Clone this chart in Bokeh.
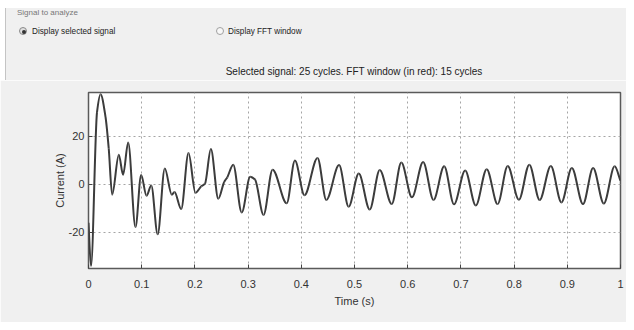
import numpy as np
from bokeh.plotting import figure
from bokeh.models import Div, Range1d, FixedTicker, ColumnDataSource
from bokeh.layouts import column
from bokeh.embed import file_html
from bokeh.resources import INLINE

# ---- data ----
time_s = [0.000, 0.0047, 0.016, 0.0226, 0.032, 0.038, 0.0445, 0.057, 0.065, 0.0746,
          0.0883, 0.099, 0.109, 0.118, 0.130, 0.1434, 0.1566, 0.1617, 0.1742, 0.188,
          0.201, 0.212, 0.219, 0.230, 0.244, 0.255, 0.261, 0.272, 0.288, 0.304,
          0.313, 0.329, 0.346, 0.3726, 0.388, 0.406, 0.4305, 0.447, 0.471, 0.489,
          0.508, 0.5286, 0.5474, 0.570, 0.588, 0.608, 0.629, 0.6485, 0.6686, 0.687,
          0.708, 0.728, 0.7485, 0.769, 0.788, 0.809, 0.8286, 0.848, 0.869, 0.889,
          0.9085, 0.9295, 0.9485, 0.9686, 0.989, 1.000]
current_a = [-16, -34, 30, 37.5, 28, 15, -4.3, 12.3, 4, 17.4,
             -17.8, 3.9, -4.7, -0.5, -20.8, 6.6, -4.3, -3.2, -10.3, 13,
             -3.5, -0.8, 0.3, 14.7, -6, 1, 3, 8.2, -11.7, 3.2,
             2, -12.7, 6.1, -7.9, 9.9, -4.5, 11, -6.5, 8, -9.3,
             4.5, -10.5, 6, -8.2, 9.1, -5.4, 9.3, -6.5, 7.5, -8.3,
             5.8, -8.8, 6.3, -8.2, 7.6, -6.4, 8.2, -6.5, 7.6, -7.5,
             6.8, -8.2, 6.8, -8, 7.5, 1.5]

x_ticks = [0, 0.1, 0.2, 0.3, 0.4, 0.5, 0.6, 0.7, 0.8, 0.9, 1]
x_tick_labels = ["0", "0.1", "0.2", "0.3", "0.4", "0.5", "0.6", "0.7", "0.8", "0.9", "1"]
y_ticks = [-20, 0, 20]
y_tick_labels = ["-20", "0", "20"]

title_text = "Selected signal: 25 cycles. FFT window (in red): 15 cycles"
x_label = "Time (s)"
y_label = "Current (A)"
radio_labels = ["Display selected signal", "Display FFT window"]
panel_label = "Signal to analyze"

FONT = "Liberation Sans"
BG = "#f0f0f0"

# ---- smooth curve (monotone cubic through the read points, drawn as Bezier segments) ----
x = np.array(time_s, dtype=float)
y = np.array(current_a, dtype=float)
h = np.diff(x)
d = np.diff(y) / h
m = np.zeros_like(x)
m[0] = d[0]
m[-1] = d[-1]
for k in range(1, len(x) - 1):
    if d[k - 1] * d[k] <= 0:
        m[k] = 0.0
    else:
        w1 = 2 * h[k] + h[k - 1]
        w2 = h[k] + 2 * h[k - 1]
        m[k] = (w1 + w2) / (w1 / d[k - 1] + w2 / d[k])
src = ColumnDataSource(dict(
    x0=x[:-1], y0=y[:-1], x1=x[1:], y1=y[1:],
    cx0=x[:-1] + h / 3, cy0=y[:-1] + m[:-1] * h / 3,
    cx1=x[1:] - h / 3, cy1=y[1:] - m[1:] * h / 3,
))

p = figure(width=626, height=242, output_backend="svg", toolbar_location=None,
           x_range=Range1d(0, 1), y_range=Range1d(-35, 38.2),
           min_border_left=88, min_border_right=6, min_border_top=12, min_border_bottom=54,
           background_fill_color="white", border_fill_color=BG)
p.outline_line_color = "#5a5a5a"
p.outline_line_width = 1.5

p.bezier(x0="x0", y0="y0", x1="x1", y1="y1", cx0="cx0", cy0="cy0", cx1="cx1", cy1="cy1",
         source=src, line_color="#3c3c3c", line_width=2)

for ax in (p.xaxis[0], p.yaxis[0]):
    ax.major_tick_in = 4
    ax.major_tick_out = 0
    ax.minor_tick_line_color = None
    ax.axis_line_color = None
    ax.major_tick_line_color = "#444444"
    ax.major_label_text_font = FONT
    ax.major_label_text_font_size = "11px"
    ax.major_label_text_color = "#333333"
    ax.axis_label_text_font = FONT
    ax.axis_label_text_font_size = "11px"
    ax.axis_label_text_font_style = "normal"
    ax.axis_label_text_color = "#333333"

p.xaxis.ticker = FixedTicker(ticks=x_ticks)
p.xaxis.major_label_overrides = {t: l for t, l in zip(x_ticks, x_tick_labels)}
p.xaxis.axis_label = x_label
p.xaxis.major_label_standoff = 11
p.xaxis.axis_label_standoff = 4

p.yaxis.ticker = FixedTicker(ticks=y_ticks)
p.yaxis.major_label_overrides = {t: l for t, l in zip(y_ticks, y_tick_labels)}
p.yaxis.axis_label = y_label
p.yaxis.major_label_standoff = 4
p.yaxis.axis_label_standoff = 0

p.xgrid.ticker = FixedTicker(ticks=x_ticks)
p.ygrid.ticker = FixedTicker(ticks=y_ticks)
for g in (p.xgrid[0], p.ygrid[0]):
    g.grid_line_color = "#a5a5a5"
    g.grid_line_dash = "2 3"
    g.grid_line_width = 1

html = f"""<div style="position:relative;width:626px;height:80px;background:#ffffff;overflow:hidden;font-family:'{FONT}',sans-serif;color:#222;">
<div style="position:absolute;left:5px;top:8px;width:621px;height:72px;background:{BG};border-left:1px solid #c4c4c4;"></div>
<span style="position:absolute;left:17px;top:8px;font-size:8px;line-height:9px;color:#777;white-space:nowrap;">{panel_label}</span>
<span style="position:absolute;left:19px;top:27px;width:8px;height:8px;border-radius:50%;border:1px solid #8a8a8a;background:#e0e0e0;"></span>
<span style="position:absolute;left:22px;top:30px;width:4px;height:4px;border-radius:50%;background:#333;"></span>
<span style="position:absolute;left:32px;top:26px;font-size:8.2px;line-height:11px;white-space:nowrap;">{radio_labels[0]}</span>
<span style="position:absolute;left:216px;top:27px;width:8px;height:8px;border-radius:50%;border:1px solid #a0a0a0;background:#f8f8f8;"></span>
<span style="position:absolute;left:228px;top:26px;font-size:8.2px;line-height:11px;white-space:nowrap;">{radio_labels[1]}</span>
<div style="position:absolute;left:88px;top:66px;width:532px;text-align:center;font-size:10px;line-height:12px;color:#222;white-space:nowrap;">{title_text}</div>
</div>"""
div = Div(text=html, width=626, height=80, margin=0, styles={"background-color": "#ffffff"})

layout = column(div, p, spacing=0)
open("out.html", "w").write(file_html(layout, INLINE))
